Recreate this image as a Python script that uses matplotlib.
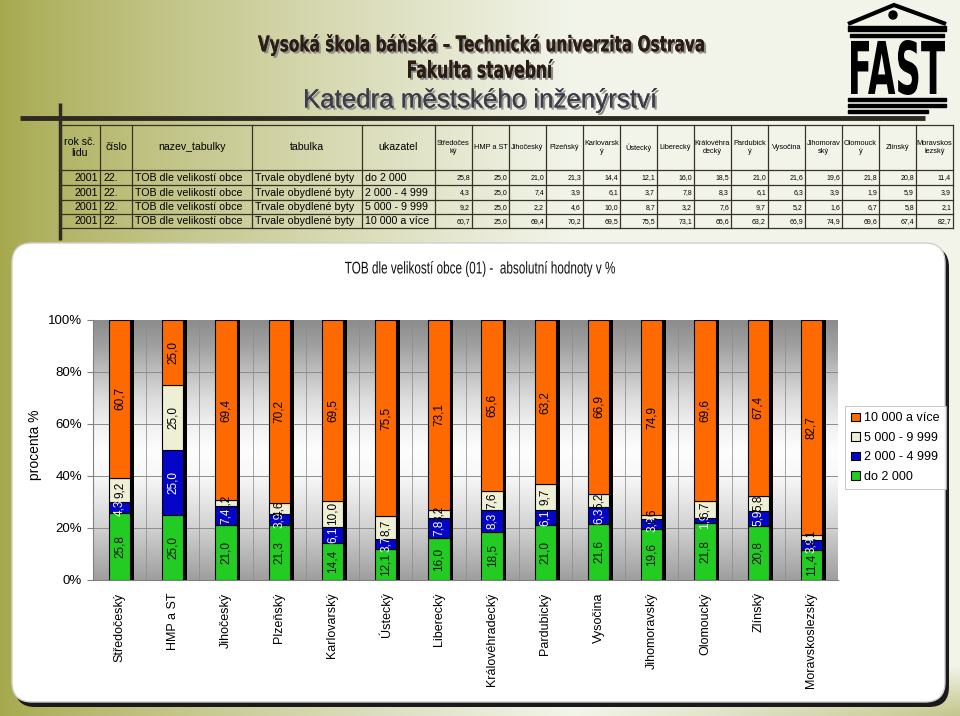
import numpy as np
import matplotlib
matplotlib.use("Agg")
import matplotlib.pyplot as plt
from matplotlib import font_manager
from matplotlib.font_manager import FontProperties
from matplotlib.patches import Rectangle, FancyBboxPatch, Polygon, Circle, PathPatch
from matplotlib.textpath import TextPath
from matplotlib.transforms import Affine2D
import matplotlib.patheffects as pe

# --- data ---
regions = ["Středočeský", "HMP a ST", "Jihočeský", "Plzeňský", "Karlovarský",
           "Ústecký", "Liberecký", "Královéhradecký", "Pardubický", "Vysočina",
           "Jihomoravský", "Olomoucký", "Zlínský", "Moravskoslezský"]
table_heads = ["Středočes\nký", "HMP a ST", "Jihočeský", "Plzeňský", "Karlovarsk\ný",
               "Ústecký", "Liberecký", "Královéhra\ndecký", "Pardubick\ný", "Vysočina",
               "Jihomorav\nský", "Olomouck\ný", "Zlínský", "Moravskos\nlezský"]
size_groups = ["do 2 000", "2 000 - 4 999", "5 000 - 9 999", "10 000 a více"]
do_2000 = [25.8, 25.0, 21.0, 21.3, 14.4, 12.1, 16.0, 18.5, 21.0, 21.6, 19.6, 21.8, 20.8, 11.4]
od_2000_4999 = [4.3, 25.0, 7.4, 3.9, 6.1, 3.7, 7.8, 8.3, 6.1, 6.3, 3.9, 1.9, 5.9, 3.9]
od_5000_9999 = [9.2, 25.0, 2.2, 4.6, 10.0, 8.7, 3.2, 7.6, 9.7, 5.2, 1.6, 6.7, 5.8, 2.1]
nad_10000 = [60.7, 25.0, 69.4, 70.2, 69.5, 75.5, 73.1, 65.6, 63.2, 66.9, 74.9, 69.6, 67.4, 82.7]
series = [do_2000, od_2000_4999, od_5000_9999, nad_10000]
colors = ["#22cc22", "#0505c8", "#efefd6", "#ff6a00"]
label_colors = ["#111111", "white", "black", "black"]
rok = "2001"
cislo = "22."
nazev = "TOB dle velikostí obce"
tabulka = "Trvale obydlené byty"
title = "TOB dle velikostí obce (01) -  absolutní hodnoty v %"

names = {f.name for f in font_manager.fontManager.ttflist}
SANS = "Liberation Sans" if "Liberation Sans" in names else "DejaVu Sans"
BOLD = FontProperties(family="DejaVu Sans", weight="bold")
REG = FontProperties(family=SANS)


def fit_text(ax, s, x0, x1, y0, y1, prop, color, effects=None):
    # text drawn as a path and squeezed into the given pixel box
    tp = TextPath((0, 0), s, size=20, prop=prop)
    e = tp.get_extents()
    tr = (Affine2D().translate(-e.x0, -e.y1)
          .scale((x1 - x0) / e.width, -(y1 - y0) / e.height).translate(x0, y0))
    ax.add_patch(PathPatch(tr.transform_path(tp), fc=color, ec="none", zorder=6,
                           path_effects=effects))


fig = plt.figure(figsize=(9.6, 7.16), dpi=100)

# --- slide background in pixel coordinates ---
bg = fig.add_axes([0, 0, 1, 1])
bg.set_xlim(0, 960)
bg.set_ylim(716, 0)
bg.axis("off")

X, Y = np.meshgrid(np.linspace(0, 1, 320), np.linspace(0, 1, 240))
t = np.clip(X / 0.6, 0, 1) ** 0.8
t = t - 0.6 * np.clip((X - 0.6) / 0.4, 0, 1) * np.clip((Y - 0.93) / 0.07, 0, 1)
olive = np.array([0.65, 0.66, 0.30])
light = np.array([0.95, 0.96, 0.92])
img = olive[None, None, :] * (1 - t[..., None]) + light[None, None, :] * t[..., None]
bg.imshow(img, extent=(0, 960, 716, 0), aspect="auto", zorder=0)

# header texts
shadow = [pe.withSimplePatchShadow(offset=(1.5, -1.5), shadow_rgbFace="#8f8f8f", alpha=1),
          pe.Normal()]
fit_text(bg, "Vysoká škola báňská – Technická univerzita Ostrava", 258, 704, 34, 56,
         BOLD, "#2b1d14", shadow)
fit_text(bg, "Fakulta stavební", 408, 553, 59, 78, BOLD, "#2b1d14", shadow)
fit_text(bg, "Katedra městského inženýrství", 305, 657, 88, 113, REG, "#3c3c48", shadow)

# FAST logo
bg.add_patch(Polygon([(848, 24), (894, 5), (946, 24)], closed=False, fill=False, lw=3, ec="black"))
bg.add_patch(Circle((893, 15), 4, color="black"))
bg.add_patch(Rectangle((848, 26), 98, 5, color="black"))
bg.add_patch(Rectangle((850, 34), 94, 2.5, color="black"))
fit_text(bg, "FAST", 851, 945, 40, 95, BOLD, "black")
bg.add_patch(Rectangle((848, 98), 98, 2.5, color="black"))
bg.add_patch(Rectangle((848, 104), 98, 2.5, color="black"))
bg.add_patch(Rectangle((848, 110), 80, 2.5, color="black"))

# frame lines
bg.plot([20, 925], [118, 118], color="#2e2a22", lw=3.5, solid_capstyle="butt")
bg.plot([60, 60], [103, 240], color="#2e2a22", lw=2.5, solid_capstyle="butt")

# --- table ---
col_edges = [60, 100, 132, 252, 362, 435] + [435 + 37 * (i + 1) for i in range(14)]
row_edges = [125, 170, 185, 200, 214, 228]
line_c = "#3a3226"
for xe in col_edges:
    bg.plot([xe, xe], [row_edges[0], row_edges[-1]], color=line_c, lw=0.9)
for ye in row_edges:
    bg.plot([col_edges[0], col_edges[-1]], [ye, ye], color=line_c, lw=0.9)

hy = (row_edges[0] + row_edges[1]) / 2
for txt, a, b in [("rok sč.\nlidu", 60, 100), ("číslo", 100, 132), ("nazev_tabulky", 132, 252),
                  ("tabulka", 252, 362), ("ukazatel", 362, 435)]:
    bg.text((a + b) / 2, hy, txt, ha="center", va="center", fontsize=7.6, family=SANS,
            linespacing=1.1)
for i, h in enumerate(table_heads):
    a = col_edges[5 + i]
    bg.text(a + 18.5, hy, h, ha="center", va="center", fontsize=5.3, family=SANS, linespacing=1.3)

for r, (grp, vals) in enumerate(zip(size_groups, series)):
    cy = (row_edges[r + 1] + row_edges[r + 2]) / 2 + 0.5
    bg.text(98, cy, rok, ha="right", va="center", fontsize=7.7, family=SANS)
    bg.text(103, cy, cislo, ha="left", va="center", fontsize=7.7, family=SANS)
    bg.text(135, cy, nazev, ha="left", va="center", fontsize=7.7, family=SANS)
    bg.text(255, cy, tabulka, ha="left", va="center", fontsize=7.7, family=SANS)
    bg.text(365, cy, grp, ha="left", va="center", fontsize=7.7, family=SANS)
    for i, v in enumerate(vals):
        bg.text(col_edges[6 + i] - 2, cy, f"{v:.1f}".replace(".", ","), ha="right", va="center",
                fontsize=5, family=SANS)

# chart panel
bg.add_patch(FancyBboxPatch((15, 247), 934, 460, boxstyle="round,pad=0,rounding_size=20",
                            fc="#1a1a1a", ec="none"))
bg.add_patch(FancyBboxPatch((12, 243), 933, 459, boxstyle="round,pad=0,rounding_size=20",
                            fc="white", ec="#cfcfcf", lw=1))
fit_text(bg, title, 345, 615, 261, 277, REG, "#111111")

# --- chart ---
ax = fig.add_axes([93 / 960, (716 - 580) / 716, 745 / 960, 260 / 716])
ax.set_facecolor("none")
levels = [100, 90, 80, 70, 60, 50, 40, 30, 20, 10, 0]
grays = [0.55, 0.63, 0.75, 0.86, 0.94, 0.99, 0.97, 0.90, 0.82, 0.72, 0.62]
yy = np.linspace(100, 0, 200)
grad = np.interp(yy, levels[::-1], grays[::-1])[:, None]
ax.imshow(grad, extent=(-0.5, 13.5, 0, 100), aspect="auto", cmap="gray", vmin=0, vmax=1, zorder=0)

for yv in [20, 40, 60, 80]:
    ax.axhline(yv, color="#8c8c8c", lw=0.7, zorder=1)
for k in range(14):
    for off, a in [(0.5, 0.9), (0.2, 0.4), (-0.2, 0.4)]:
        ax.axvline(k + off, color="#8c8c8c", lw=0.6, alpha=a, zorder=1)

x = np.arange(len(regions))
totals = np.sum(series, axis=0)
ax.bar(x + 0.07, totals, 0.4, color="black", zorder=2)
bottom = np.zeros(len(regions))
for vals, c, lc in zip(series, colors, label_colors):
    ax.bar(x, vals, 0.4, bottom=bottom, color=c, edgecolor="black", linewidth=0.8, zorder=3)
    for xi, b, v in zip(x, bottom, vals):
        ax.text(xi, b + v / 2, f"{v:.1f}".replace(".", ","), rotation=90, ha="center",
                va="center", fontsize=8.5, family=SANS, color=lc, zorder=4)
    bottom = bottom + np.array(vals)

ax.set_xlim(-0.5, 13.5)
ax.set_ylim(0, 100)
ax.set_yticks([0, 20, 40, 60, 80, 100])
ax.set_yticklabels([f"{v}%" for v in [0, 20, 40, 60, 80, 100]], family=SANS, fontsize=9.5)
ax.set_xticks(x)
ax.set_xticklabels(regions, rotation=90, family=SANS, fontsize=9)
ax.tick_params(axis="x", length=0, pad=9)
ax.tick_params(axis="y", length=4, color="#808080", pad=4)
for s in ["top", "right"]:
    ax.spines[s].set_visible(False)
for s in ["left", "bottom"]:
    ax.spines[s].set_color("#808080")

fig.text(35 / 960, 1 - 445 / 716, "procenta %", rotation=90, ha="center", va="center",
         fontsize=10, family=SANS)

handles = [Rectangle((0, 0), 1, 1, fc=c, ec="black", lw=0.8) for c in colors[::-1]]
leg = fig.legend(handles, size_groups[::-1], loc="upper left",
                 bbox_to_anchor=(845 / 960, 1 - 406 / 716), frameon=True, fancybox=False,
                 handlelength=0.7, handleheight=0.7, handletextpad=0.3, labelspacing=0.6,
                 borderpad=0.5, borderaxespad=0, prop={"family": SANS, "size": 9})
leg.get_frame().set_edgecolor("#bdbdbd")
leg.get_frame().set_linewidth(0.8)

fig.savefig("out.png", dpi=100)
